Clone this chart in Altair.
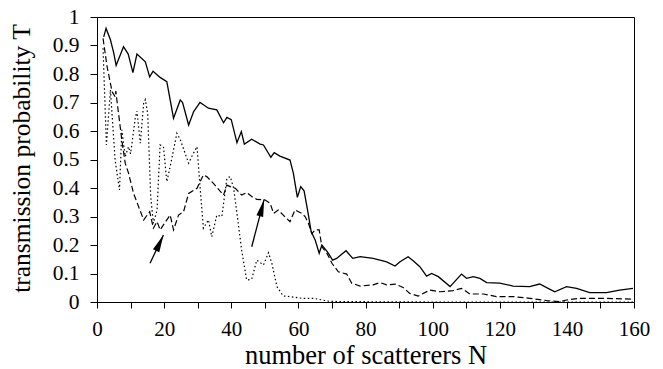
import altair as alt
import pandas as pd

# ---- data ----
solid_N = [2, 2.7, 4, 5, 5.7, 7.9, 9.3, 10.7, 11.9, 14.4, 15.7, 16.7, 18.8, 20.8, 22.8, 24.8,
           25.5, 27.3, 28.8, 30.7, 33.2, 35.7, 37.7, 38.7, 40, 41.7, 43, 43.9, 46.1, 48.6,
           49.6, 51.8, 52.8, 54.5, 57.5, 58.5, 59.7, 60.7, 61.7, 63, 63.8, 65, 66.2, 67,
           68.6, 70.2, 71.4, 74.2, 76.2, 78.4, 82.3, 86.3, 88.8, 90.3, 92.7, 94.2, 96.2,
           98.2, 99.7, 101.7, 105.2, 108.6, 110.1, 112.1, 114.1, 116.1, 120, 124, 128.9,
           131.9, 134.4, 136.4, 139.9, 142.9, 146.8, 151.8, 155.7, 159.7]
solid_T = [0.93, 0.96, 0.92, 0.873, 0.83, 0.896, 0.87, 0.805, 0.87, 0.843, 0.79, 0.81, 0.788,
           0.773, 0.645, 0.709, 0.70, 0.621, 0.668, 0.70, 0.68, 0.674, 0.629, 0.648, 0.64,
           0.559, 0.598, 0.554, 0.571, 0.554, 0.551, 0.508, 0.524, 0.512, 0.498, 0.452,
           0.367, 0.405, 0.39, 0.305, 0.247, 0.218, 0.171, 0.2, 0.177, 0.147, 0.153, 0.18,
           0.153, 0.159, 0.153, 0.141, 0.126, 0.141, 0.159, 0.145, 0.124, 0.091, 0.1, 0.089,
           0.054, 0.098, 0.083, 0.089, 0.083, 0.068, 0.066, 0.056, 0.054, 0.063, 0.048,
           0.036, 0.054, 0.048, 0.033, 0.033, 0.042, 0.048]

dashed_N = [1.8, 3, 4.5, 5.4, 5.6, 7.4, 8.4, 9.4, 10.9, 13.9, 15.7, 16.8, 17.9, 18.8, 20.8,
            21.8, 22.8, 24.3, 25.8, 27.3, 29.8, 31.7, 32.7, 34.7, 37.7, 38.7, 39.7, 41.2,
            43.1, 44.6, 46.1, 47.6, 50.1, 51.6, 52.6, 54, 55.5, 57.5, 59, 61, 62, 63, 64,
            65, 66.2, 67, 68.5, 70, 71.9, 74.4, 75.9, 78.4, 82.3, 84.3, 86.3, 88.8, 91.2,
            93.2, 95.7, 99.2, 102.2, 106.1, 108.6, 111.1, 115.1, 119, 124, 129, 134, 137.9,
            139.9, 143.8, 150.8, 159.7]
dashed_T = [0.925, 0.826, 0.738, 0.72, 0.74, 0.568, 0.487, 0.452, 0.381, 0.288, 0.317, 0.259,
            0.282, 0.253, 0.288, 0.305, 0.253, 0.305, 0.317, 0.381, 0.399, 0.446, 0.44,
            0.416, 0.375, 0.41, 0.405, 0.399, 0.375, 0.384, 0.37, 0.36, 0.358, 0.346, 0.311,
            0.323, 0.305, 0.282, 0.323, 0.311, 0.3, 0.276, 0.24, 0.253, 0.253, 0.194, 0.171,
            0.136, 0.106, 0.098, 0.066, 0.056, 0.06, 0.068, 0.06, 0.063, 0.051, 0.03, 0.021,
            0.042, 0.036, 0.04, 0.048, 0.028, 0.028, 0.019, 0.019, 0.013, 0.005, 0.001,
            0.007, 0.013, 0.013, 0.01]

dotted_N = [1.8, 2.8, 4, 5.4, 6.7, 7.4, 8.4, 9.4, 10, 11.4, 11.9, 12.9, 13.9, 14.4, 15.1, 16,
            16.8, 17.9, 18.8, 19.8, 20.8, 21.8, 23.8, 24.8, 27.3, 28.2, 29.8, 30.7, 31.7,
            33.2, 34.2, 35.7, 37.2, 38.7, 39.7, 40.7, 41.7, 43.1, 44.6, 46.1, 47.6, 49.6,
            51.1, 52.1, 53.6, 55.5, 57.5, 61, 64.5, 69.4, 80, 100, 120, 140, 160]
dotted_T = [0.89, 0.551, 0.744, 0.498, 0.393, 0.604, 0.51, 0.545, 0.52, 0.645, 0.67, 0.557,
            0.697, 0.71, 0.662, 0.37, 0.276, 0.323, 0.551, 0.545, 0.422, 0.475, 0.592, 0.57,
            0.487, 0.51, 0.545, 0.405, 0.259, 0.288, 0.229, 0.305, 0.3, 0.434, 0.44, 0.4,
            0.311, 0.182, 0.077, 0.08, 0.147, 0.13, 0.173, 0.136, 0.054, 0.021, 0.019, 0.013,
            0.013, 0.002, 0.001, 0.0, 0.0, 0.0, 0.0]

# arrows (annotation): start and tip in data units, head rotation in degrees
arrow_x0 = [15.8, 46.1]
arrow_y0 = [0.136, 0.194]
arrow_x1 = [19.8, 49.8]
arrow_y1 = [0.235, 0.36]
arrow_angle = [25, 14.5]

x_ticks = [0, 10, 20, 30, 40, 50, 60, 70, 80, 90, 100, 110, 120, 130, 140, 150, 160]
y_ticks = [0, 0.1, 0.2, 0.3, 0.4, 0.5, 0.6, 0.7, 0.8, 0.9, 1]

FONT = "Liberation Serif"

df_solid = pd.DataFrame({"N": solid_N, "T": solid_T})
df_dashed = pd.DataFrame({"N": dashed_N, "T": dashed_T})
df_dotted = pd.DataFrame({"N": dotted_N, "T": dotted_T})
df_arrow = pd.DataFrame({"x0": arrow_x0, "y0": arrow_y0, "x1": arrow_x1,
                         "y1": arrow_y1, "ang": arrow_angle})

xscale = alt.Scale(domain=[0, 160], nice=False, zero=False)
yscale = alt.Scale(domain=[0, 1], nice=False)

xaxis = alt.Axis(values=x_ticks, labelExpr="datum.value % 20 == 0 ? datum.label : ''",
                 title="number of scatterers N", grid=False, tickSize=6,
                 labelFontSize=21, titleFontSize=26.5, labelPadding=10, titlePadding=3,
                 labelFlush=False, labelOverlap=False)
yaxis = alt.Axis(values=y_ticks, format="~g", title="transmission probability T",
                 grid=False, tickSize=7, labelFontSize=21.5, titleFontSize=25.5,
                 labelPadding=11, titleX=-76, titleY=141, titleBaseline="middle",
                 titleAlign="center", labelFlush=False, labelOverlap=False)


def X(field):
    return alt.X(field, type="quantitative", scale=xscale, axis=xaxis)


def Y(field):
    return alt.Y(field, type="quantitative", scale=yscale, axis=yaxis)


solid = alt.Chart(df_solid).mark_line(color="black", strokeWidth=1.3).encode(
    x=X("N"), y=Y("T"))
dashed = alt.Chart(df_dashed).mark_line(color="black", strokeWidth=1.2,
                                         strokeDash=[6, 3]).encode(x=X("N"), y=Y("T"))
dotted = alt.Chart(df_dotted).mark_line(color="black", strokeWidth=1.2,
                                         strokeDash=[1.5, 2.5]).encode(x=X("N"), y=Y("T"))

shaft = alt.Chart(df_arrow).mark_rule(color="black", strokeWidth=1.3).encode(
    x=X("x0"), y=Y("y0"), x2="x1:Q", y2="y1:Q")
head = alt.Chart(df_arrow).mark_point(
    shape="M0,0L0.4,2L-0.4,2Z", filled=True, color="black", opacity=1, size=300
).encode(x=X("x1"), y=Y("y1"), angle=alt.Angle("ang:Q", scale=None))

chart = alt.layer(solid, dashed, dotted, shaft, head).properties(
    width=537, height=285,
    padding={"left": 97, "top": 17, "right": 29, "bottom": 67},
    autosize="none",
).configure_axis(
    labelFont=FONT, titleFont=FONT, labelColor="black", titleColor="black",
    domainColor="black", tickColor="black", titleFontWeight="normal",
    domainWidth=1, tickWidth=1,
).configure_view(stroke="black", strokeWidth=1)

chart.save("out.html", embed_options={"renderer": "svg", "actions": False})
